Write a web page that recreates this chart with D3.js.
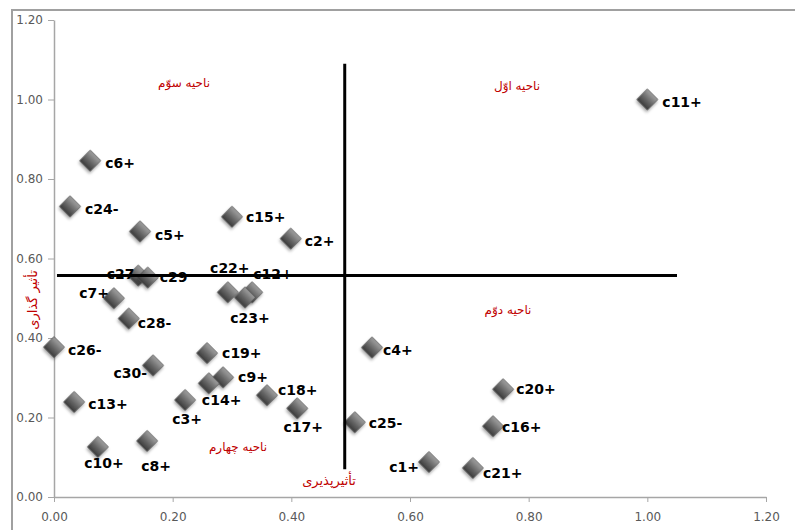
<!DOCTYPE html>
<html lang="fa">
<head>
    <meta charset="UTF-8">
    <title>Scatter</title>
    <script src="https://d3js.org/d3.v7.min.js"></script>
    <style>
        body { margin: 0; background: #fff; }
        .tick text { font-family: "DejaVu Sans", sans-serif; font-size: 12px; fill: #595959; }
        .tick line, .domain { stroke: #a6a6a6; }
        .lbl { font-family: "DejaVu Sans", sans-serif; font-size: 14px; font-weight: bold; fill: #000; }
        .fa { font-family: "DejaVu Sans", sans-serif; font-size: 12px; fill: #c00000; }
    </style>
</head>
<body>
<svg id="chart" width="795" height="530"></svg>
<script>
    // data
    var names = ["c1+", "c2+", "c3+", "c4+", "c5+", "c6+", "c7+", "c8+", "c9+", "c10+",
                 "c11+", "c12+", "c13+", "c14+", "c15+", "c16+", "c17+", "c18+", "c19+", "c20+",
                 "c21+", "c22+", "c23+", "c24-", "c25-", "c26-", "c27-", "c28-", "c29", "c30-"];
    var xValues = [0.632, 0.399, 0.221, 0.536, 0.145, 0.061, 0.101, 0.157, 0.285, 0.074,
                   1.000, 0.334, 0.034, 0.261, 0.300, 0.740, 0.410, 0.359, 0.258, 0.757,
                   0.706, 0.293, 0.322, 0.027, 0.507, 0.000, 0.142, 0.126, 0.158, 0.167];
    var yValues = [0.088, 0.650, 0.244, 0.376, 0.668, 0.846, 0.500, 0.141, 0.301, 0.126,
                   1.000, 0.515, 0.239, 0.286, 0.705, 0.178, 0.223, 0.256, 0.362, 0.271,
                   0.073, 0.515, 0.502, 0.731, 0.188, 0.377, 0.557, 0.449, 0.552, 0.331];
    var xTicks = [0, 0.2, 0.4, 0.6, 0.8, 1.0, 1.2];
    var yTicks = [0, 0.2, 0.4, 0.6, 0.8, 1.0, 1.2];

    // dividing lines
    var hLineY = 0.557, hLineX = [0.005, 1.05];
    var vLineX = 0.49, vLineY = [0.07, 1.09];

    var zoneNames = ["ناحیه اوّل", "ناحیه دوّم", "ناحیه سوّم", "ناحیه چهارم"];
    var xTitle = "تأثیرپذیری";
    var yTitle = "تأثیر گذاری";

    // label placement: [anchor, dx, dy]
    var labelPos = {
        "c1+": ["end", -10, 5], "c2+": ["start", 14, 2], "c3+": ["middle", 2, 19],
        "c4+": ["start", 11, 2], "c5+": ["start", 15, 3], "c6+": ["start", 15, 2],
        "c7+": ["end", -5, -5], "c8+": ["middle", 9, 25], "c9+": ["start", 15, 0],
        "c10+": ["middle", 6, 16], "c11+": ["start", 15, 2], "c12+": ["start", 1, -18],
        "c13+": ["start", 14, 2], "c14+": ["start", -7, 17], "c15+": ["start", 14, 0],
        "c16+": ["start", 9, 1], "c17+": ["middle", 6, 19], "c18+": ["start", 11, -5],
        "c19+": ["start", 15, 0], "c20+": ["start", 13, 0], "c21+": ["start", 10, 5],
        "c22+": ["middle", 2, -24], "c23+": ["middle", 5, 21], "c24-": ["start", 15, 3],
        "c25-": ["start", 14, 1], "c26-": ["start", 14, 3], "c27-": ["end", 2, -2],
        "c28-": ["start", 9, 4], "c29": ["start", 12, -1], "c30-": ["end", -6, 8]
    };

    var points = names.map(function (n, i) {
        return {name: n, x: xValues[i], y: yValues[i]};
    });

    var svg = d3.select("#chart");

    var x = d3.scaleLinear().domain([0, 1.2]).range([54, 766]);
    var y = d3.scaleLinear().domain([0, 1.2]).range([497, 20]);

    // outer chart frame
    svg.append("rect")
        .attr("x", 12).attr("y", 10)
        .attr("width", 820).attr("height", 560)
        .attr("fill", "none")
        .attr("stroke", "#a0a0a0")
        .attr("stroke-width", 2);

    var defs = svg.append("defs");
    var grad = defs.append("linearGradient")
        .attr("id", "dia")
        .attr("x1", 0).attr("y1", 0).attr("x2", 0).attr("y2", 1);
    grad.append("stop").attr("offset", "0%").attr("stop-color", "#a0a0a0");
    grad.append("stop").attr("offset", "50%").attr("stop-color", "#6b6b6b");
    grad.append("stop").attr("offset", "100%").attr("stop-color", "#3a3a3a");

    var shadow = defs.append("filter").attr("id", "shadow")
        .attr("x", "-50%").attr("y", "-50%").attr("width", "200%").attr("height", "200%");
    shadow.append("feDropShadow")
        .attr("dx", 1).attr("dy", 2)
        .attr("stdDeviation", 1.5)
        .attr("flood-opacity", 0.35);

    // axes
    svg.append("g")
        .attr("transform", "translate(0,497)")
        .call(d3.axisBottom(x).tickValues(xTicks).tickFormat(d3.format(".2f")).tickSize(5).tickSizeOuter(0))
        .call(function (g) { g.selectAll("text").attr("dy", "1.3em"); });

    svg.append("g")
        .attr("transform", "translate(54,0)")
        .call(d3.axisLeft(y).tickValues(yTicks).tickFormat(d3.format(".2f")).tickSize(6).tickSizeOuter(0))
        .call(function (g) { g.selectAll("text").attr("x", -11); });

    svg.selectAll(".domain").attr("stroke-width", 1.5);

    // markers
    var diamond = d3.symbol().type(d3.symbolSquare).size(220);
    svg.append("g").selectAll("path")
        .data(points)
        .enter()
        .append("path")
        .attr("d", diamond)
        .attr("transform", function (d) {
            return "translate(" + x(d.x) + "," + y(d.y) + ") rotate(45)";
        })
        .attr("fill", "url(#dia)")
        .attr("stroke", "#4a4a4a")
        .attr("stroke-width", 0.6)
        .attr("filter", "url(#shadow)");

    // point labels
    svg.append("g").selectAll("text")
        .data(points)
        .enter()
        .append("text")
        .attr("class", "lbl")
        .attr("text-anchor", function (d) { return labelPos[d.name][0]; })
        .attr("x", function (d) { return x(d.x) + labelPos[d.name][1]; })
        .attr("y", function (d) { return y(d.y) + labelPos[d.name][2]; })
        .attr("dy", "0.36em")
        .text(function (d) { return d.name; });

    // quadrant lines
    svg.append("line")
        .attr("x1", x(hLineX[0])).attr("x2", x(hLineX[1]))
        .attr("y1", y(hLineY)).attr("y2", y(hLineY))
        .attr("stroke", "#000").attr("stroke-width", 3);
    svg.append("line")
        .attr("x1", x(vLineX)).attr("x2", x(vLineX))
        .attr("y1", y(vLineY[0])).attr("y2", y(vLineY[1]))
        .attr("stroke", "#000").attr("stroke-width", 3);

    // zone captions and axis titles
    var zonePos = [[517, 86], [508, 310], [184, 83], [238, 447]];
    svg.append("g").selectAll("text")
        .data(zoneNames)
        .enter()
        .append("text")
        .attr("class", "fa")
        .attr("text-anchor", "middle")
        .attr("direction", "rtl")
        .attr("x", function (d, i) { return zonePos[i][0]; })
        .attr("y", function (d, i) { return zonePos[i][1]; })
        .attr("dy", "0.35em")
        .text(function (d) { return d; });

    svg.append("text")
        .attr("class", "fa")
        .attr("text-anchor", "middle")
        .attr("x", 329).attr("y", 480).attr("dy", "0.35em")
        .style("font-size", "13px")
        .text(xTitle);

    svg.append("text")
        .attr("class", "fa")
        .attr("text-anchor", "middle")
        .attr("transform", "translate(32,300) rotate(-90)")
        .attr("dy", "0.35em")
        .style("font-size", "13px")
        .text(yTitle);
</script>
</body>
</html>
